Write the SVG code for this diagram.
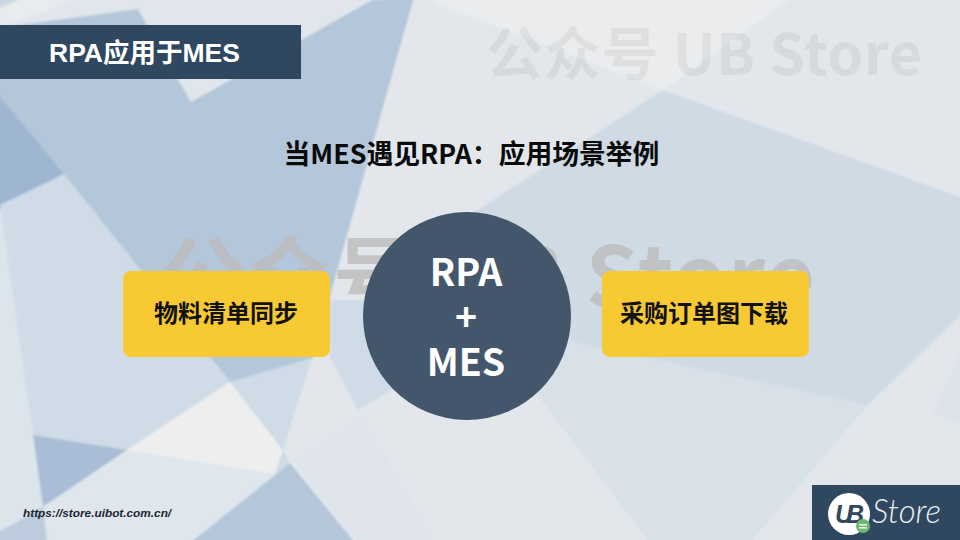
<svg xmlns="http://www.w3.org/2000/svg" width="960" height="540" viewBox="0 0 960 540">
<style>
.cjk{font-family:"Noto Sans CJK SC","Noto Sans",sans-serif;font-weight:700}
.ar{font-family:"Liberation Sans",Arial,"Noto Sans CJK SC",sans-serif;font-weight:700}
.node{fill:#f7c932}
</style>
<defs><filter id="soft"><feGaussianBlur stdDeviation="0.8"/></filter></defs>
<g id="background" filter="url(#soft)">
<rect x="-3" y="-3" width="966" height="546" fill="#e3e7ec"/>
<polygon points="-3,-3 82,-3 0,28" fill="#e9ecef"/>
<polygon points="-3,-3 25,-3 -3,9" fill="#cdd7e3"/>
<polygon points="82,-3 372,-3 191,102 138,9 0,28" fill="#e0e6ec"/>
<polygon points="420,-3 792,-3 663,90" fill="#ebecee"/>
<polygon points="-3,28 138,9 191,102 372,0 414,-3 312,360 230,382 -3,93" fill="#b4c7da"/>
<polygon points="-3,93 64,174 -3,211" fill="#9fb6d0"/>
<polygon points="-3,211 64,174 230,382 127,450 33,435 47,543 -3,543" fill="#dde5ec"/>
<polygon points="0,205 64,174 230,382 127,450 33,435" fill="#cfdbe6"/>
<polygon points="33,435 127,450 43,507" fill="#a9bdd6"/>
<polygon points="230,382 127,450 275,474 283,450" fill="#eeeeef"/>
<polygon points="230,382 312,358 283,450" fill="#cfdbe6"/>
<polygon points="127,450 275,474 190,543 47,543 43,507" fill="#dfe6ec"/>
<polygon points="283,450 275,474 290,463" fill="#cfdbe6"/>
<polygon points="290,463 190,543 355,543" fill="#b3c6da"/>
<polygon points="-3,533 43,507 47,543 -3,543" fill="#bccbdd"/>
<polygon points="330,300 330,357 358,410 400,385 400,300" fill="#cfdbe6"/>
<polygon points="293,459 362,415 430,530 435,543 355,543" fill="#e0e5eb"/>
<polygon points="663,90 963,198 963,313 868,405 560,340 470,300 470,215" fill="#cfdae5"/>
<polygon points="535,392 565,340 868,405 750,543 650,543" fill="#d8e0e8"/>
<polygon points="933,413 963,345 963,426" fill="#dde3ea"/>
</g>
<g id="watermarks" class="cjk">
<text x="486" y="75" font-size="57" fill="#6b6b6b" fill-opacity="0.1" textLength="436">公众号 UB Store</text>
<text x="160" y="308" font-size="85" fill="#bcbcbc" fill-opacity="0.8" textLength="655">公众号 UB Store</text>
</g>
<g id="connectors"></g>
<g id="title-bar"><rect x="0" y="25" width="301" height="54" fill="#2f4860"/><text class="ar" x="49" y="62" font-size="26.5" fill="#fff">RPA应用于MES</text></g>
<g id="heading"><text class="cjk" x="471.5" y="164" font-size="26.8" fill="#0a0a0a" text-anchor="middle">当MES遇见RPA：应用场景举例</text></g>
<g id="node-left"><rect class="node" x="123" y="271" width="207" height="86" rx="8"/><text class="cjk" x="226" y="322" font-size="24" fill="#111" text-anchor="middle">物料清单同步</text></g>
<g id="node-center"><circle cx="467" cy="316" r="104" fill="#43566b"/>
<text class="cjk" x="466" y="286" font-size="37.5" fill="#fff" text-anchor="middle">RPA</text>
<text class="cjk" x="466" y="331" font-size="37.5" fill="#fff" text-anchor="middle">+</text>
<text class="cjk" x="466" y="376" font-size="37.5" fill="#fff" text-anchor="middle">MES</text></g>
<g id="node-right"><rect class="node" x="602" y="271" width="207" height="86" rx="8"/><text class="cjk" x="704" y="322" font-size="24" fill="#111" text-anchor="middle">采购订单图下载</text></g>
<g id="url"><text x="23" y="517" font-family="'Liberation Sans',Arial,sans-serif" font-weight="700" font-style="italic" font-size="11.8" fill="#1c2530">https://store.uibot.com.cn/</text></g>
<g id="logo"><rect x="812" y="485" width="148" height="55" fill="#2f4860"/>
<circle cx="849" cy="514" r="21" fill="#fff"/>
<text x="835" y="523" font-family="'Liberation Sans',Arial,sans-serif" font-weight="700" font-style="italic" font-size="25" fill="#2f4860" textLength="29">UB</text>
<circle cx="863" cy="526" r="7" fill="#6cb86f"/><rect x="859" y="524" width="8" height="1.6" fill="#e8f4e8"/><rect x="859" y="527" width="8" height="1.6" fill="#e8f4e8"/>
<text x="872" y="523" font-family="Lato,'Open Sans',sans-serif" font-weight="300" font-style="italic" font-size="33" fill="#e8eef3">Store</text></g>
</svg>
